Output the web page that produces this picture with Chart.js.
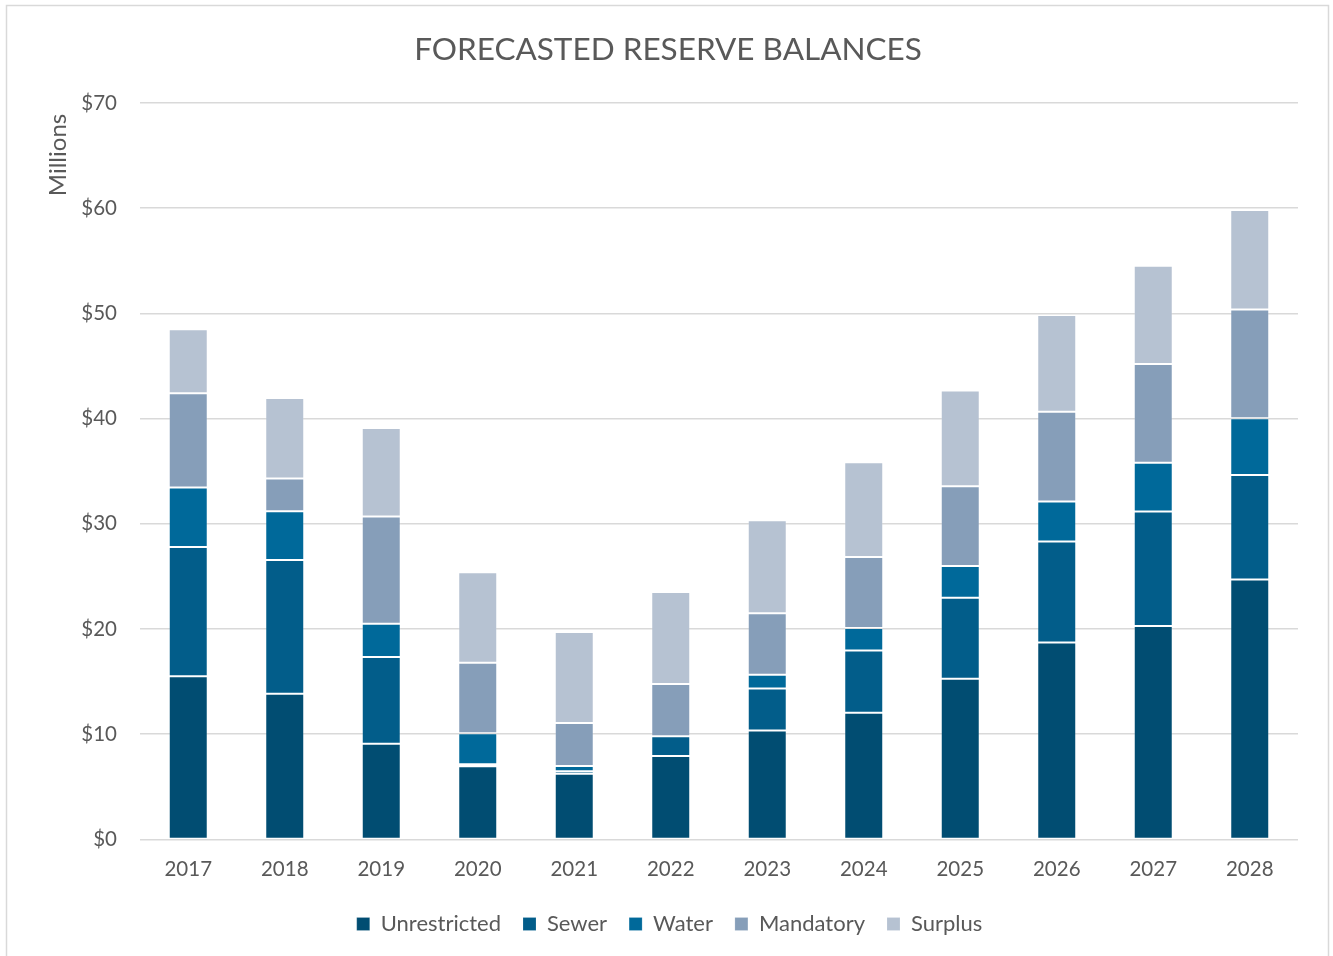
<!DOCTYPE html>
<html>
<head>
<meta charset="utf-8">
<script src="https://cdn.jsdelivr.net/npm/chart.js@4/dist/chart.umd.min.js"></script>
<style>
  html, body { margin: 0; padding: 0; background: #ffffff; }
  #wrap { position: relative; width: 1333px; height: 956px; }
  canvas { display: block; }
</style>
</head>
<body>
<div id="wrap"><canvas id="chart" width="1333" height="956"></canvas></div>
<script>
// Fiscal years on the category axis
const years = ['2017', '2018', '2019', '2020', '2021', '2022', '2023', '2024', '2025', '2026', '2027', '2028'];

// Reserve balances by fund, in millions of dollars
const unrestricted = [15.5, 13.85, 9.1, 6.95, 6.25, 7.93, 10.34, 12.05, 15.28, 18.71, 20.29, 24.7];
const sewer        = [12.3, 12.7, 8.25, 0.2, 0.22, 1.87, 4.0, 5.9, 7.7, 9.6, 10.88, 9.95];
const water        = [5.65, 4.65, 3.15, 2.95, 0.5, 0.0, 1.3, 2.15, 3.0, 3.81, 4.63, 5.39];
const mandatory    = [8.95, 3.1, 10.2, 6.7, 4.1, 4.97, 5.85, 6.75, 7.6, 8.52, 9.38, 10.34];
const surplus      = [6.1, 7.65, 8.4, 8.6, 8.65, 8.75, 8.85, 9.0, 9.1, 9.2, 9.35, 9.45];

// Value axis ticks
const yTicks = [0, 10, 20, 30, 40, 50, 60, 70];

const FONT = 'Lato, "Open Sans", sans-serif';
const TEXT = '#595959';
const TITLE = 'FORECASTED RESERVE BALANCES';

const series = [
  { label: 'Unrestricted', data: unrestricted, color: '#014d72' },
  { label: 'Sewer',        data: sewer,        color: '#025d8a' },
  { label: 'Water',        data: water,        color: '#00699a' },
  { label: 'Mandatory',    data: mandatory,    color: '#869eb9' },
  { label: 'Surplus',      data: surplus,      color: '#b6c2d2' }
];

// Outer frame of the chart object
const framePlugin = {
  id: 'frame',
  beforeDraw(chart) {
    const c = chart.ctx;
    c.save();
    c.fillStyle = '#ffffff';
    c.fillRect(0, 0, chart.width, chart.height);
    c.strokeStyle = '#d9d9d9';
    c.lineWidth = 1.5;
    c.strokeRect(6.5, 5.5, 1322, 970);
    c.restore();
  }
};

// Title centred on the whole chart object, plus the display-units label
// placed near the top of the value axis
const textPlugin = {
  id: 'chartText',
  afterDraw(chart) {
    const c = chart.ctx;
    c.save();
    c.fillStyle = TEXT;
    c.textAlign = 'center';
    c.textBaseline = 'middle';
    c.font = '31.5px ' + FONT;
    c.fillText(TITLE, 668, 50);
    c.translate(58, 155);
    c.rotate(-Math.PI / 2);
    c.font = '24px ' + FONT;
    c.fillText('Millions', 0, 0);
    c.restore();
  }
};

new Chart(document.getElementById('chart'), {
  type: 'bar',
  data: {
    labels: years,
    datasets: series.map(s => ({
      label: s.label,
      data: s.data,
      backgroundColor: s.color,
      borderColor: 'rgba(255,255,255,0.16)',
      borderWidth: 1,
      borderSkipped: false,
      barPercentage: 0.8,
      categoryPercentage: 0.505
    }))
  },
  options: {
    responsive: false,
    devicePixelRatio: 1,
    animation: false,
    layout: { padding: { left: 6, right: 0, top: 103, bottom: 11 } },
    plugins: {
      title: { display: false },
      legend: {
        position: 'bottom',
        labels: {
          color: TEXT,
          font: { family: FONT, size: 22 },
          boxWidth: 13,
          boxHeight: 13,
          padding: 22
        }
      },
      tooltip: { enabled: false }
    },
    scales: {
      x: {
        stacked: true,
        grid: { display: false, drawTicks: false },
        border: { display: false },
        afterFit(scale) { scale.height = 51.6; },
        ticks: { color: TEXT, font: { family: FONT, size: 20.5 }, padding: 18 }
      },
      y: {
        stacked: true,
        min: 0,
        max: 70,
        afterBuildTicks(scale) { scale.ticks = yTicks.map(v => ({ value: v })); },
        afterFit(scale) { scale.width = 134; },
        grid: { color: '#d9d9d9', lineWidth: 1.5, drawTicks: false },
        border: { display: false },
        ticks: {
          color: TEXT,
          font: { family: FONT, size: 20.5 },
          padding: 23,
          callback: v => '$' + v
        }
      },
      // empty right-hand margin so the plot ends short of the frame
      yRight: {
        position: 'right',
        display: true,
        grid: { display: false, drawTicks: false },
        border: { display: false },
        ticks: { display: false },
        afterFit(scale) { scale.width = 35; }
      }
    }
  },
  plugins: [framePlugin, textPlugin]
});
</script>
</body>
</html>
